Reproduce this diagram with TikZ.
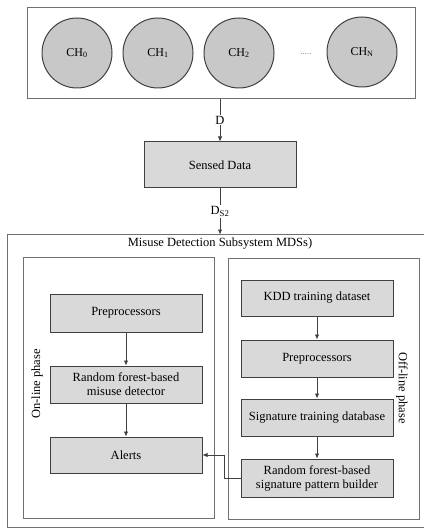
\documentclass[tikz,border=0pt]{standalone}
\usepackage{fontspec}
\setmainfont{Liberation Serif}
\usetikzlibrary{arrows.meta}
\definecolor{boxfill}{HTML}{D9D9D9}
\definecolor{circfill}{HTML}{C8C8C8}
\definecolor{edge}{HTML}{404040}
\definecolor{frame}{HTML}{707070}
\tikzset{
  base/.style={font=\fontsize{12.5}{14}\selectfont, text=black},
  procbox/.style={base, draw=edge, line width=1pt, fill=boxfill, minimum width=152pt, inner sep=0pt, align=center},
  chan/.style={base, circle, draw=edge, line width=1pt, fill=circfill, minimum size=70pt, inner sep=0pt, font=\fontsize{12}{14}\selectfont},
  framebox/.style={draw=frame, line width=1pt, inner sep=0pt},
  conn/.style={draw=edge, line width=0.8pt, -{Latex[length=5pt,width=4.5pt]}},
  lbl/.style={base, fill=white, inner sep=1pt}
}
\begin{document}
\begin{tikzpicture}[x=1pt, y=-1pt]
\useasboundingbox (0,0) rectangle (423,529);
% top box with channels
\node[framebox, minimum width=388pt, minimum height=91pt] (top) at (221,53.5) {};
\node[chan] (ch0) at (77,53) {CH\textsubscript{0}};
\node[chan] (ch1) at (158,53) {CH\textsubscript{1}};
\node[chan] (ch2) at (239,53) {CH\textsubscript{2}};
\node[base, font=\fontsize{9}{10}\selectfont, text=gray] (dots) at (306,54) {.....};
\node[chan] (chn) at (362,52) {CH\textsubscript{N}};
% sensed data
\node[procbox, minimum height=46pt] (sensed) at (220,165) {Sensed Data};
% outer and inner frames
\node[framebox, minimum width=419pt, minimum height=292.5pt] (outer) at (216.5,380.75) {};
\node[base] (title) at (220,244) {Misuse Detection Subsystem MDSs)};
\node[framebox, minimum width=191pt, minimum height=260.5pt] (online) at (119,387.75) {};
\node[framebox, minimum width=191pt, minimum height=261pt] (offline) at (324,388.5) {};
\node[base, rotate=90] (onlbl) at (37,384) {On-line phase};
\node[base, rotate=-90] (offlbl) at (402,388) {Off-line phase};
% on-line phase
\node[procbox, minimum height=38pt] (pre1) at (126,313) {Preprocessors};
\node[procbox, minimum height=37pt] (rf1) at (126,384.5) {Random forest-based\\misuse detector};
\node[procbox, minimum height=36pt] (alerts) at (126,455) {Alerts};
% off-line phase
\node[procbox, minimum height=36pt] (kdd) at (317,298) {KDD training dataset};
\node[procbox, minimum height=37pt] (pre2) at (317,358.5) {Preprocessors};
\node[procbox, minimum height=37pt] (sig) at (317,417.5) {Signature training database};
\node[procbox, minimum height=38pt] (rfs) at (317,478) {Random forest-based\\signature pattern builder};
% connectors
\coordinate (topout) at (220,99);
\coordinate (outin) at (220,234.5);
\draw[conn] (topout) -- node[lbl, pos=0.5] (dl) {D} (sensed.north);
\draw[conn] (sensed.south) -- node[lbl, pos=0.5] (ds2) {D\textsubscript{S2}} (outin);
\draw[conn] (pre1) -- (rf1);
\draw[conn] (rf1) -- (alerts);
\draw[conn] (kdd) -- (pre2);
\draw[conn] (pre2) -- (sig);
\draw[conn] (sig) -- (rfs);
\coordinate (bend1) at (224,478);
\coordinate (bend2) at (224,455);
\draw[conn] (rfs.west) -- (bend1) -- (bend2) -- (alerts.east);
\end{tikzpicture}
\end{document}
